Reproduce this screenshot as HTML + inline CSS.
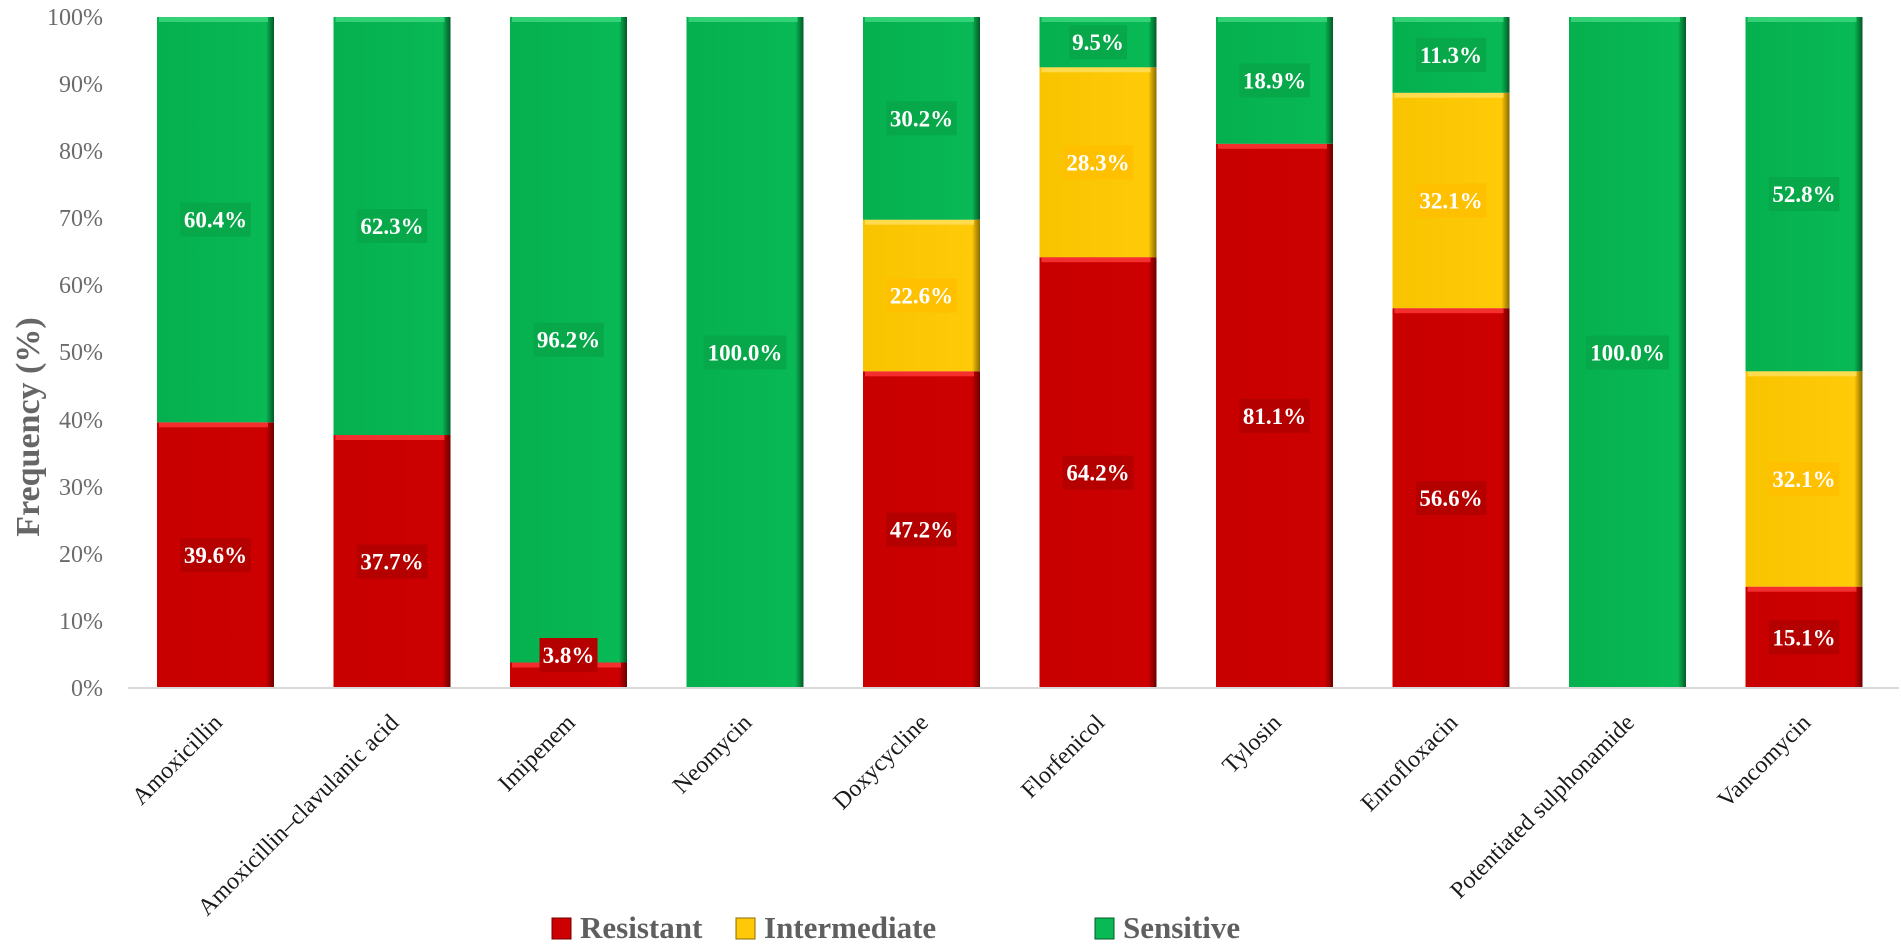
<!DOCTYPE html>
<html><head><meta charset="utf-8"><style>
html,body{margin:0;padding:0;background:#fff;}
svg{display:block;font-family:"Liberation Serif",serif;}
</style></head><body>
<svg width="1901" height="946" viewBox="0 0 1901 946" xmlns="http://www.w3.org/2000/svg">
<defs>
<linearGradient id="gR" x1="0" y1="0" x2="1" y2="0"><stop offset="0" stop-color="#c80000"/><stop offset="0.93" stop-color="#cc0000"/><stop offset="1" stop-color="#6a0000"/></linearGradient>
<linearGradient id="gY" x1="0" y1="0" x2="1" y2="0"><stop offset="0" stop-color="#f8c400"/><stop offset="0.93" stop-color="#ffca08"/><stop offset="1" stop-color="#8a6a00"/></linearGradient>
<linearGradient id="gG" x1="0" y1="0" x2="1" y2="0"><stop offset="0" stop-color="#05b04e"/><stop offset="0.93" stop-color="#08b955"/><stop offset="1" stop-color="#035a28"/></linearGradient>
</defs>
<g>
<rect x="157" y="422.3" width="117" height="265.7" fill="url(#gR)"/><rect x="159" y="422.3" width="109" height="5" fill="#ff3a3a" opacity="0.8"/>
<rect x="157" y="17" width="117" height="405.3" fill="url(#gG)"/><rect x="159" y="17" width="109" height="5" fill="#40d880" opacity="0.8"/>

<rect x="333.5" y="435" width="117" height="253" fill="url(#gR)"/><rect x="335.5" y="435" width="109" height="5" fill="#ff3a3a" opacity="0.8"/>
<rect x="333.5" y="17" width="117" height="418" fill="url(#gG)"/><rect x="335.5" y="17" width="109" height="5" fill="#40d880" opacity="0.8"/>

<rect x="510" y="662.5" width="117" height="25.5" fill="url(#gR)"/><rect x="512" y="662.5" width="109" height="5" fill="#ff3a3a" opacity="0.8"/>
<rect x="510" y="17" width="117" height="645.5" fill="url(#gG)"/><rect x="512" y="17" width="109" height="5" fill="#40d880" opacity="0.8"/>

<rect x="686.5" y="17" width="117" height="671" fill="url(#gG)"/><rect x="688.5" y="17" width="109" height="5" fill="#40d880" opacity="0.8"/>

<rect x="863" y="371.3" width="117" height="316.7" fill="url(#gR)"/><rect x="865" y="371.3" width="109" height="5" fill="#ff3a3a" opacity="0.8"/>
<rect x="863" y="219.7" width="117" height="151.6" fill="url(#gY)"/><rect x="865" y="219.7" width="109" height="5" fill="#ffe060" opacity="0.8"/>
<rect x="863" y="17" width="117" height="202.7" fill="url(#gG)"/><rect x="865" y="17" width="109" height="5" fill="#40d880" opacity="0.8"/>

<rect x="1039.5" y="257.2" width="117" height="430.8" fill="url(#gR)"/><rect x="1041.5" y="257.2" width="109" height="5" fill="#ff3a3a" opacity="0.8"/>
<rect x="1039.5" y="67.3" width="117" height="189.9" fill="url(#gY)"/><rect x="1041.5" y="67.3" width="109" height="5" fill="#ffe060" opacity="0.8"/>
<rect x="1039.5" y="17" width="117" height="50.3" fill="url(#gG)"/><rect x="1041.5" y="17" width="109" height="5" fill="#40d880" opacity="0.8"/>

<rect x="1216" y="143.8" width="117" height="544.2" fill="url(#gR)"/><rect x="1218" y="143.8" width="109" height="5" fill="#ff3a3a" opacity="0.8"/>
<rect x="1216" y="17" width="117" height="126.8" fill="url(#gG)"/><rect x="1218" y="17" width="109" height="5" fill="#40d880" opacity="0.8"/>

<rect x="1392.5" y="308.2" width="117" height="379.8" fill="url(#gR)"/><rect x="1394.5" y="308.2" width="109" height="5" fill="#ff3a3a" opacity="0.8"/>
<rect x="1392.5" y="92.8" width="117" height="215.4" fill="url(#gY)"/><rect x="1394.5" y="92.8" width="109" height="5" fill="#ffe060" opacity="0.8"/>
<rect x="1392.5" y="17" width="117" height="75.8" fill="url(#gG)"/><rect x="1394.5" y="17" width="109" height="5" fill="#40d880" opacity="0.8"/>

<rect x="1569" y="17" width="117" height="671" fill="url(#gG)"/><rect x="1571" y="17" width="109" height="5" fill="#40d880" opacity="0.8"/>

<rect x="1745.5" y="586.7" width="117" height="101.3" fill="url(#gR)"/><rect x="1747.5" y="586.7" width="109" height="5" fill="#ff3a3a" opacity="0.8"/>
<rect x="1745.5" y="371.3" width="117" height="215.4" fill="url(#gY)"/><rect x="1747.5" y="371.3" width="109" height="5" fill="#ffe060" opacity="0.8"/>
<rect x="1745.5" y="17" width="117" height="354.3" fill="url(#gG)"/><rect x="1747.5" y="17" width="109" height="5" fill="#40d880" opacity="0.8"/>
</g>
<g>
<rect x="180.3" y="538.1" width="70.5" height="34" fill="#b50000"/><rect x="180.3" y="202.6" width="70.5" height="34" fill="#07a84a"/>
<rect x="356.8" y="544.5" width="70.5" height="34" fill="#b50000"/><rect x="356.8" y="209" width="70.5" height="34" fill="#07a84a"/>
<rect x="539.5" y="638" width="58" height="34" fill="#b50000"/><rect x="533.3" y="322.7" width="70.5" height="34" fill="#07a84a"/>
<rect x="703.5" y="335.5" width="83" height="34" fill="#07a84a"/>
<rect x="886.3" y="512.6" width="70.5" height="34" fill="#b50000"/><rect x="886.3" y="278.5" width="70.5" height="34" fill="#ffc000"/><rect x="886.3" y="101.3" width="70.5" height="34" fill="#07a84a"/>
<rect x="1062.8" y="455.6" width="70.5" height="34" fill="#b50000"/><rect x="1062.8" y="145.3" width="70.5" height="34" fill="#ffc000"/><rect x="1069" y="25.2" width="58" height="34" fill="#07a84a"/>
<rect x="1239.3" y="398.9" width="70.5" height="34" fill="#b50000"/><rect x="1239.3" y="63.4" width="70.5" height="34" fill="#07a84a"/>
<rect x="1415.8" y="481.1" width="70.5" height="34" fill="#b50000"/><rect x="1415.8" y="183.5" width="70.5" height="34" fill="#ffc000"/><rect x="1415.8" y="37.9" width="70.5" height="34" fill="#07a84a"/>
<rect x="1586" y="335.5" width="83" height="34" fill="#07a84a"/>
<rect x="1768.8" y="620.3" width="70.5" height="34" fill="#b50000"/><rect x="1768.8" y="462" width="70.5" height="34" fill="#ffc000"/><rect x="1768.8" y="177.1" width="70.5" height="34" fill="#07a84a"/>
</g>
<g font-size="23" font-weight="bold" fill="#fff" text-anchor="middle">
<text x="215.5" y="563.1">39.6%</text><text x="215.5" y="227.6">60.4%</text>
<text x="392" y="569.5">37.7%</text><text x="392" y="234">62.3%</text>
<text x="568.5" y="663">3.8%</text><text x="568.5" y="347.7">96.2%</text>
<text x="745" y="360.5">100.0%</text>
<text x="921.5" y="537.6">47.2%</text><text x="921.5" y="303.5">22.6%</text><text x="921.5" y="126.3">30.2%</text>
<text x="1098" y="480.6">64.2%</text><text x="1098" y="170.3">28.3%</text><text x="1098" y="50.2">9.5%</text>
<text x="1274.5" y="423.9">81.1%</text><text x="1274.5" y="88.4">18.9%</text>
<text x="1451" y="506.1">56.6%</text><text x="1451" y="208.5">32.1%</text><text x="1451" y="62.9">11.3%</text>
<text x="1627.5" y="360.5">100.0%</text>
<text x="1804" y="645.3">15.1%</text><text x="1804" y="487">32.1%</text><text x="1804" y="202.1">52.8%</text>
</g>
<g font-size="24" fill="#1a1a1a" text-anchor="end">
<text transform="translate(223.5,724) rotate(-45)">Amoxicillin</text>
<text transform="translate(400,724) rotate(-45)">Amoxicillin–clavulanic acid</text>
<text transform="translate(576.5,724) rotate(-45)">Imipenem</text>
<text transform="translate(753,724) rotate(-45)">Neomycin</text>
<text transform="translate(929.5,724) rotate(-45)">Doxycycline</text>
<text transform="translate(1106,724) rotate(-45)">Florfenicol</text>
<text transform="translate(1282.5,724) rotate(-45)">Tylosin</text>
<text transform="translate(1459,724) rotate(-45)">Enrofloxacin</text>
<text transform="translate(1635.5,724) rotate(-45)">Potentiated sulphonamide</text>
<text transform="translate(1812,724) rotate(-45)">Vancomycin</text>
</g>
<g font-size="24" fill="#6b6b6b" text-anchor="end">
<text x="103" y="696">0%</text><text x="103" y="629">10%</text><text x="103" y="562">20%</text><text x="103" y="495">30%</text><text x="103" y="428">40%</text><text x="103" y="360">50%</text><text x="103" y="293">60%</text><text x="103" y="226">70%</text><text x="103" y="159">80%</text><text x="103" y="92">90%</text><text x="103" y="25">100%</text>
</g>
<text transform="translate(39,427) rotate(-90)" text-anchor="middle" font-size="34" font-weight="bold" fill="#666">Frequency (%)</text>
<line x1="128" y1="688" x2="1899" y2="688" stroke="#d9d9d9" stroke-width="2"/>
<g>
<rect x="552" y="918" width="19" height="21" fill="#cc0000" stroke="#700" stroke-width="1"/>
<text x="580" y="938" font-size="31" font-weight="bold" fill="#5f5f5f">Resistant</text>
<rect x="736" y="918" width="19" height="21" fill="#ffc90a" stroke="#8a6a00" stroke-width="1"/>
<text x="764" y="938" font-size="31" font-weight="bold" fill="#5f5f5f">Intermediate</text>
<rect x="1095" y="918" width="19" height="21" fill="#08b955" stroke="#035a28" stroke-width="1"/>
<text x="1123" y="938" font-size="31" font-weight="bold" fill="#5f5f5f">Sensitive</text>
</g>
</svg>
</body></html>
